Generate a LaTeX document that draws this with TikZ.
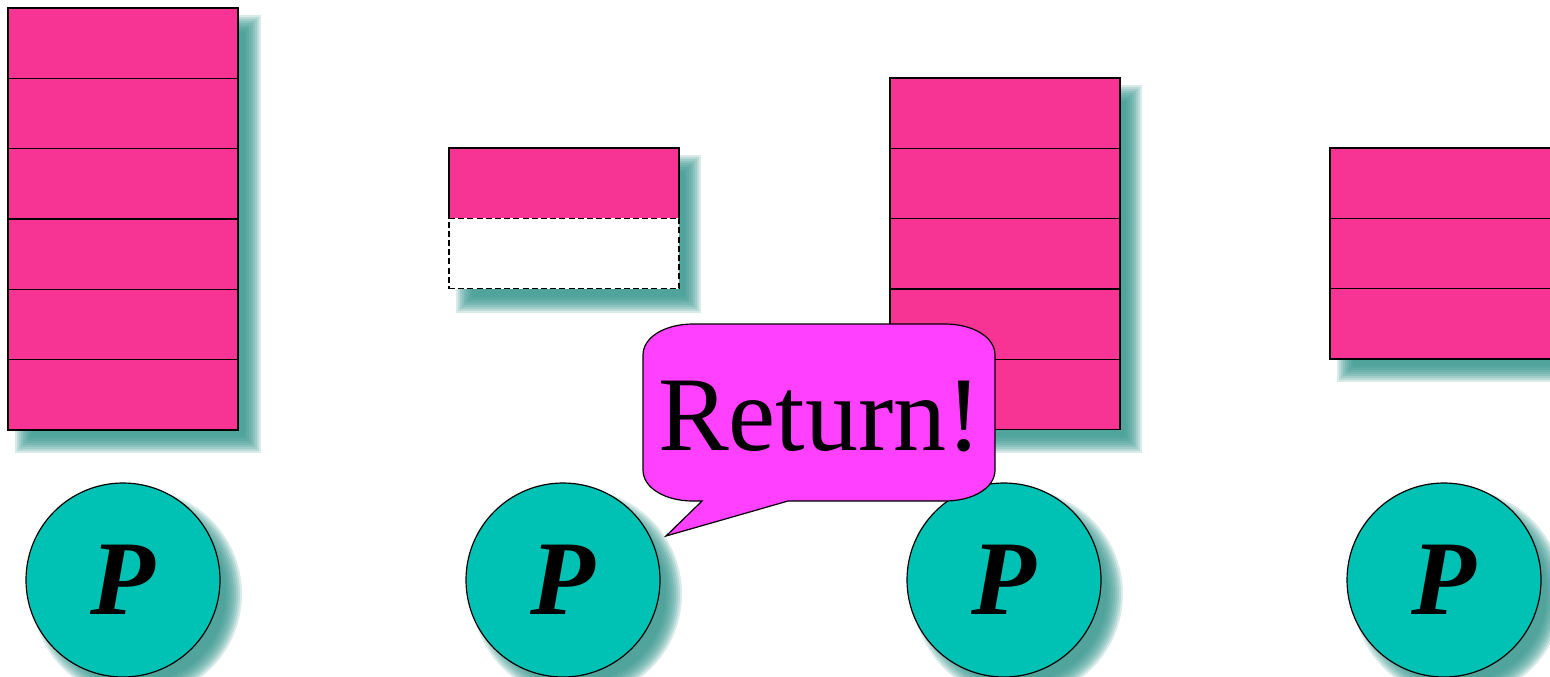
\documentclass[tikz,border=0pt]{standalone}
\usepackage{fontspec}
\setmainfont{Liberation Serif}
\definecolor{stackpink}{HTML}{F73394}
\definecolor{callpink}{HTML}{FF40FF}
\definecolor{pteal}{HTML}{00C2B4}
\definecolor{shteal}{HTML}{33948B}
\tikzset{
  cell/.style={draw=black, line width=0.65pt, fill=stackpink, minimum width=115pt,
    minimum height=35.17pt, inner sep=0pt, outer sep=0pt, anchor=north west},
  widecell/.style={cell, minimum width=125pt},
  emptycell/.style={cell, fill=white, dashed, dash pattern=on 3pt off 1.6pt},
  proc/.style={circle, draw=black, line width=0.6pt, fill=pteal, minimum size=97pt,
    inner sep=0pt, font=\fontsize{53}{53}\selectfont\bfseries\itshape},
  callout/.style={draw=black, line width=0.6pt, fill=callpink},
  shlayer/.style={fill=shteal, opacity=0.19}
}
% blurred shadow of a rectangle: #1,#2 top-left ; #3,#4 bottom-right (pixel units)
\newcommand\myshrect[4]{%
  \foreach \e in {-8,-6,...,8}{%
    \fill[shlayer] ({#1+15-\e},{#2+15-\e}) rectangle ({#3+15+\e},{#4+15+\e});}}
\newcommand\myshcirc[2]{%
  \foreach \e in {-8,-6,...,8}{%
    \fill[shlayer] ({#1+14},{#2+14}) circle[radius={(97+\e)*0.5pt}];}}
\begin{document}
\begin{tikzpicture}[x=0.5pt,y=-0.5pt]
\useasboundingbox (0,0) rectangle (1550,676);
\clip (0,0) rectangle (1550,676);
% ---- shadows of stacks
\myshrect{8}{8}{238}{430}
\myshrect{449}{148}{678}{290}
\myshrect{890}{78}{1119}{430}
\myshrect{1330}{148}{1570}{359}
% ---- stack 1
\node[cell] (s1a) at (8,8) {};
\node[cell] (s1b) at (8,78.33) {};
\node[cell] (s1c) at (8,148.67) {};
\node[cell] (s1d) at (8,219) {};
\node[cell] (s1e) at (8,289.33) {};
\node[cell] (s1f) at (8,359.67) {};
% ---- stack 2
\node[cell] (s2a) at (449,148) {};
\node[emptycell] (s2b) at (449,218.33) {};
% ---- stack 3
\node[cell] (s3a) at (890,78) {};
\node[cell] (s3b) at (890,148.33) {};
\node[cell] (s3c) at (890,218.67) {};
\node[cell] (s3d) at (890,289) {};
\node[cell] (s3e) at (890,359.33) {};
% ---- stack 4
\node[widecell] (s4a) at (1330,148) {};
\node[widecell] (s4b) at (1330,218.33) {};
\node[widecell] (s4c) at (1330,288.67) {};
% ---- processes
\myshcirc{123}{580}
\myshcirc{563}{580}
\myshcirc{1004}{580}
\myshcirc{1444}{580}
\node[proc] (p1) at (123,580) {P};
\node[proc] (p2) at (563,580) {P};
\node[proc] (p3) at (1004,580) {P};
\node[proc] (p4) at (1444,580) {P};
% ---- callout
\coordinate (tip) at (666,536);
\draw[callout] (693,324) -- (945,324)
  .. controls (972.6,324) and (995,336.9) .. (995,355) -- (995,470)
  .. controls (995,488.1) and (972.6,501) .. (945,501) -- (788,501) -- (tip)
  -- (702,501) -- (693,501)
  .. controls (665.4,501) and (643,488.1) .. (643,470) -- (643,355)
  .. controls (643,336.9) and (665.4,324) .. (693,324) -- cycle;
\node[anchor=base, inner sep=0pt, font=\fontsize{53}{53}\selectfont] (ret) at (820,450) {Return!};
\end{tikzpicture}
\end{document}
